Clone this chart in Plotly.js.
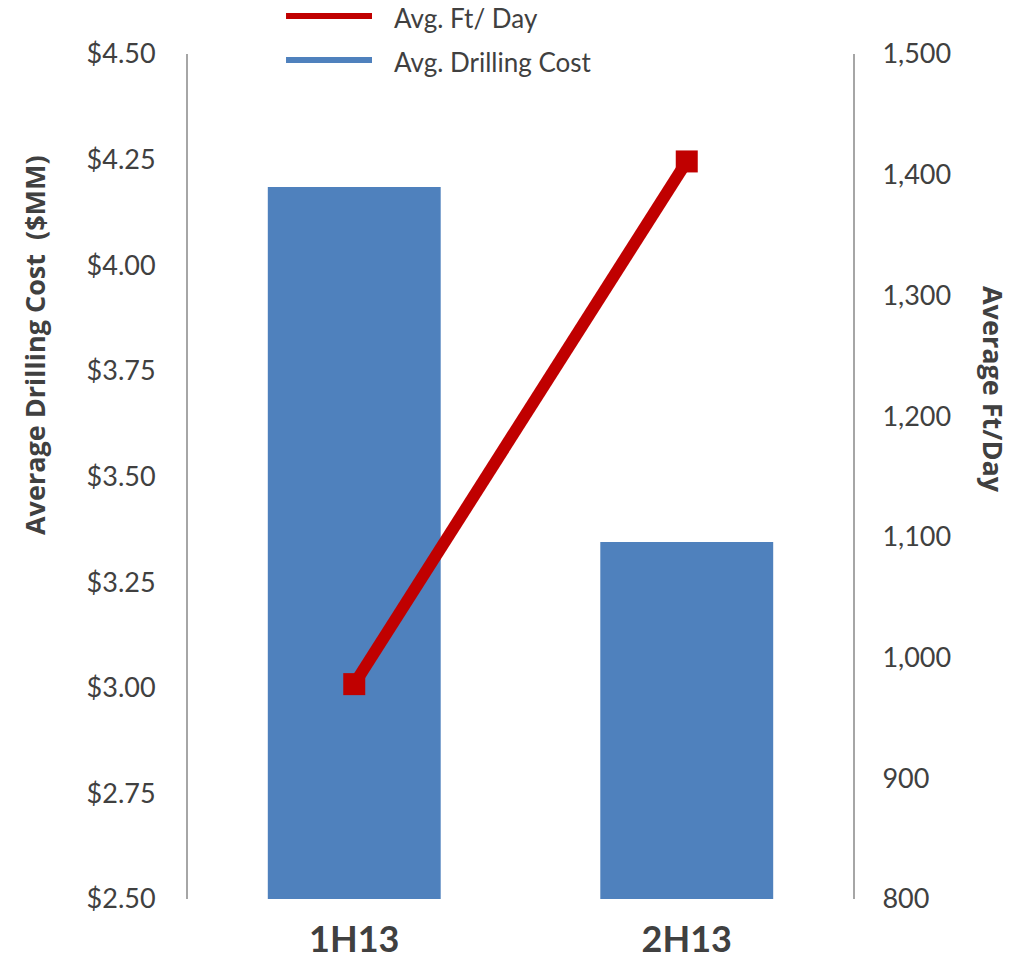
<!DOCTYPE html>
<html>
<head>
<meta charset="utf-8">
<script src="https://cdn.plot.ly/plotly-3.0.1.min.js"></script>
<style>html,body{margin:0;padding:0;background:#fff;}#chart{width:1015px;height:959px;}</style>
</head>
<body>
<div id="chart"></div>
<script>
const categories = ['1H13', '2H13'];
const drillingCost = [4.185, 3.345];   // $MM, left axis
const ftPerDay = [978, 1411];          // right axis
const costTicks = [2.5, 2.75, 3.0, 3.25, 3.5, 3.75, 4.0, 4.25, 4.5];
const ftTicks = [800, 900, 1000, 1100, 1200, 1300, 1400, 1500];
const seriesNames = ['Avg. Ft/ Day', 'Avg. Drilling Cost'];

const FONT = 'Lato, "Open Sans", sans-serif';
const TFONT = '"Open Sans", Lato, sans-serif';
const TXT = '#404040';
const RED = '#C00000';
const BLUE = '#4F81BD';

const traces = [
  {
    type: 'bar', x: categories, y: drillingCost, name: seriesNames[1],
    marker: {color: BLUE}, yaxis: 'y', showlegend: false, hoverinfo: 'skip'
  },
  {
    type: 'scatter', mode: 'lines+markers', x: categories, y: ftPerDay, name: seriesNames[0],
    line: {color: RED, width: 12}, marker: {symbol: 'square', size: 22, color: RED},
    yaxis: 'y2', showlegend: false, hoverinfo: 'skip'
  }
];

const layout = {
  width: 1015, height: 959,
  margin: {l: 188, r: 162, t: 54, b: 60},
  paper_bgcolor: '#fff', plot_bgcolor: '#fff',
  showlegend: false,
  bargap: 0.48,
  font: {family: FONT, color: TXT},
  xaxis: {
    type: 'category', range: [-0.5, 1.5], showgrid: false, zeroline: false, showline: false,
    ticks: 'outside', ticklen: 9, tickcolor: 'rgba(0,0,0,0)',
    tickfont: {family: FONT, size: 36, color: TXT, weight: 'bold'}
  },
  yaxis: {
    range: [2.5, 4.5], tickvals: costTicks, tickformat: '$.2f',
    showgrid: false, zeroline: false, showline: true, linecolor: '#A6A6A6', linewidth: 2,
    ticks: 'outside', ticklen: 25, tickcolor: 'rgba(0,0,0,0)',
    tickfont: {family: FONT, size: 27, color: TXT}
  },
  yaxis2: {
    overlaying: 'y', side: 'right', range: [800, 1500], tickvals: ftTicks, tickformat: ',d',
    showgrid: false, zeroline: false, showline: true, linecolor: '#A6A6A6', linewidth: 2,
    ticks: 'outside', ticklen: 22, tickcolor: 'rgba(0,0,0,0)',
    tickfont: {family: FONT, size: 27, color: TXT}
  },
  shapes: [
    {type: 'line', xref: 'paper', yref: 'paper', x0: 0.1474, x1: 0.2767, y0: 1.045, y1: 1.045,
     line: {color: RED, width: 6}},
    {type: 'line', xref: 'paper', yref: 'paper', x0: 0.1474, x1: 0.2767, y0: 0.9929, y1: 0.9929,
     line: {color: BLUE, width: 6}}
  ],
  annotations: [
    {xref: 'paper', yref: 'paper', x: 0.3068, y: 1.043, xanchor: 'left', yanchor: 'middle',
     text: seriesNames[0], showarrow: false, font: {family: FONT, size: 26, color: TXT}},
    {xref: 'paper', yref: 'paper', x: 0.3068, y: 0.9909, xanchor: 'left', yanchor: 'middle',
     text: seriesNames[1], showarrow: false, font: {family: FONT, size: 26, color: TXT}},
    {xref: 'paper', yref: 'paper', x: -0.2316, y: 0.6556, xanchor: 'center', yanchor: 'middle',
     text: 'Average Drilling Cost  ($MM)', textangle: -90, showarrow: false,
     font: {family: TFONT, size: 27, color: TXT, weight: 700}},
    {xref: 'paper', yref: 'paper', x: 1.2105, y: 0.6024, xanchor: 'center', yanchor: 'middle',
     text: 'Average Ft/Day', textangle: 90, showarrow: false,
     font: {family: TFONT, size: 27, color: TXT, weight: 700}}
  ]
};

Plotly.newPlot('chart', traces, layout, {displayModeBar: false, staticPlot: true});
</script>
</body>
</html>
